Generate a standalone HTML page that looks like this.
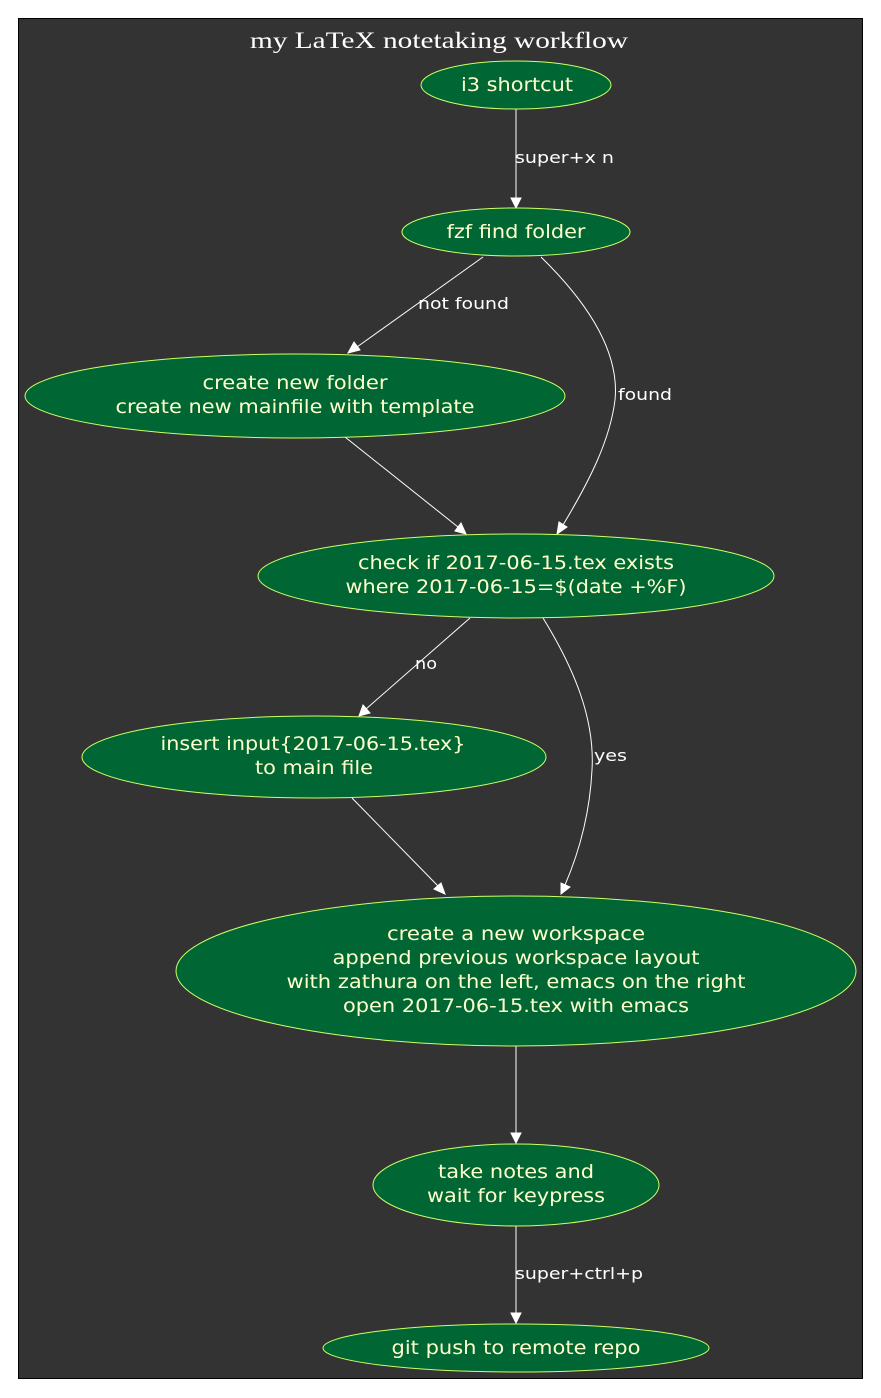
<!DOCTYPE html>
<html><head><meta charset="utf-8"><style>
html,body{margin:0;padding:0;background:#fff;width:881px;height:1398px;overflow:hidden}
svg{display:block}
.n{fill:#006633;stroke:#ccff66;stroke-width:1}
.t{font-family:"DejaVu Sans","Liberation Sans",sans-serif;font-size:19px;fill:#ffffcc;text-anchor:middle}
.l{font-family:"DejaVu Sans","Liberation Sans",sans-serif;font-size:16px;fill:#fff}
.e{stroke:#fff;stroke-width:1;fill:none}
.a{fill:#fff;stroke:#fff}
</style></head><body>
<svg width="881" height="1398" viewBox="0 0 881 1398" xmlns="http://www.w3.org/2000/svg">
<rect x="18.5" y="18.5" width="844" height="1360" fill="#333333" stroke="#000" stroke-width="1"/>
<text x="439" y="48" text-anchor="middle" font-family="'Liberation Serif',serif" font-size="23" fill="#fff" textLength="378" lengthAdjust="spacingAndGlyphs">my LaTeX notetaking workflow</text>

<path class="e" d="M516,109 L516,198"/><polygon class="a" points="511,198 516,208 521,198"/>
<text class="l" x="515" y="163" textLength="99" lengthAdjust="spacingAndGlyphs">super+x n</text>

<path class="e" d="M483,257 L357,347"/><polygon class="a" points="354,342 348,353 360,350"/>
<text class="l" x="418" y="309" textLength="91" lengthAdjust="spacingAndGlyphs">not found</text>

<path class="e" d="M541,257 C585,300 620,350 615,400 C610,440 590,480 563,525"/><polygon class="a" points="559,522 557,534 567,527"/>
<text class="l" x="618" y="400" textLength="54" lengthAdjust="spacingAndGlyphs">found</text>

<path class="e" d="M345,437 L458,527"/><polygon class="a" points="455,531 466,534 461,523"/>

<path class="e" d="M470,618 L366,709"/><polygon class="a" points="363,705 359,716 370,713"/>
<text class="l" x="415" y="669" textLength="22" lengthAdjust="spacingAndGlyphs">no</text>

<path class="e" d="M543,618 C575,670 595,720 592,770 C590,810 580,850 565,885"/><polygon class="a" points="561,883 561,894 570,887"/>
<text class="l" x="594" y="761" textLength="33" lengthAdjust="spacingAndGlyphs">yes</text>

<path class="e" d="M352,798 L438,886"/><polygon class="a" points="434,889 445,894 441,883"/>

<path class="e" d="M516,1046 L516,1133"/><polygon class="a" points="511,1133 516,1143 521,1133"/>

<path class="e" d="M516,1226 L516,1313"/><polygon class="a" points="511,1313 516,1323 521,1313"/>
<text class="l" x="515" y="1279" textLength="128" lengthAdjust="spacingAndGlyphs">super+ctrl+p</text>

<ellipse class="n" cx="516" cy="85" rx="95" ry="24"/>
<text class="t" x="517" y="91" textLength="112" lengthAdjust="spacingAndGlyphs">i3 shortcut</text>

<ellipse class="n" cx="516" cy="232" rx="114" ry="24"/>
<text class="t" x="516" y="238" textLength="139" lengthAdjust="spacingAndGlyphs">fzf find folder</text>

<ellipse class="n" cx="295" cy="396" rx="270" ry="42"/>
<text class="t" x="295" y="389" textLength="185" lengthAdjust="spacingAndGlyphs">create new folder</text>
<text class="t" x="295" y="413" textLength="359" lengthAdjust="spacingAndGlyphs">create new mainfile with template</text>

<ellipse class="n" cx="516" cy="576" rx="258" ry="42"/>
<text class="t" x="516" y="569" textLength="316" lengthAdjust="spacingAndGlyphs">check if 2017-06-15.tex exists</text>
<text class="t" x="516" y="593" textLength="341" lengthAdjust="spacingAndGlyphs">where 2017-06-15=$(date +%F)</text>

<ellipse class="n" cx="314" cy="757" rx="232" ry="41"/>
<text class="t" x="313" y="750" textLength="305" lengthAdjust="spacingAndGlyphs">insert input{2017-06-15.tex}</text>
<text class="t" x="314" y="774" textLength="118" lengthAdjust="spacingAndGlyphs">to main file</text>

<ellipse class="n" cx="516" cy="971" rx="340" ry="75"/>
<text class="t" x="516" y="940" textLength="258" lengthAdjust="spacingAndGlyphs">create a new workspace</text>
<text class="t" x="516" y="964" textLength="367" lengthAdjust="spacingAndGlyphs">append previous workspace layout</text>
<text class="t" x="516" y="988" textLength="459" lengthAdjust="spacingAndGlyphs">with zathura on the left, emacs on the right</text>
<text class="t" x="516" y="1012" textLength="346" lengthAdjust="spacingAndGlyphs">open 2017-06-15.tex with emacs</text>

<ellipse class="n" cx="516" cy="1185" rx="143" ry="41"/>
<text class="t" x="516" y="1178" textLength="156" lengthAdjust="spacingAndGlyphs">take notes and</text>
<text class="t" x="516" y="1202" textLength="178" lengthAdjust="spacingAndGlyphs">wait for keypress</text>

<ellipse class="n" cx="516" cy="1348" rx="193" ry="24"/>
<text class="t" x="516" y="1354" textLength="249" lengthAdjust="spacingAndGlyphs">git push to remote repo</text>
</svg>
</body></html>
